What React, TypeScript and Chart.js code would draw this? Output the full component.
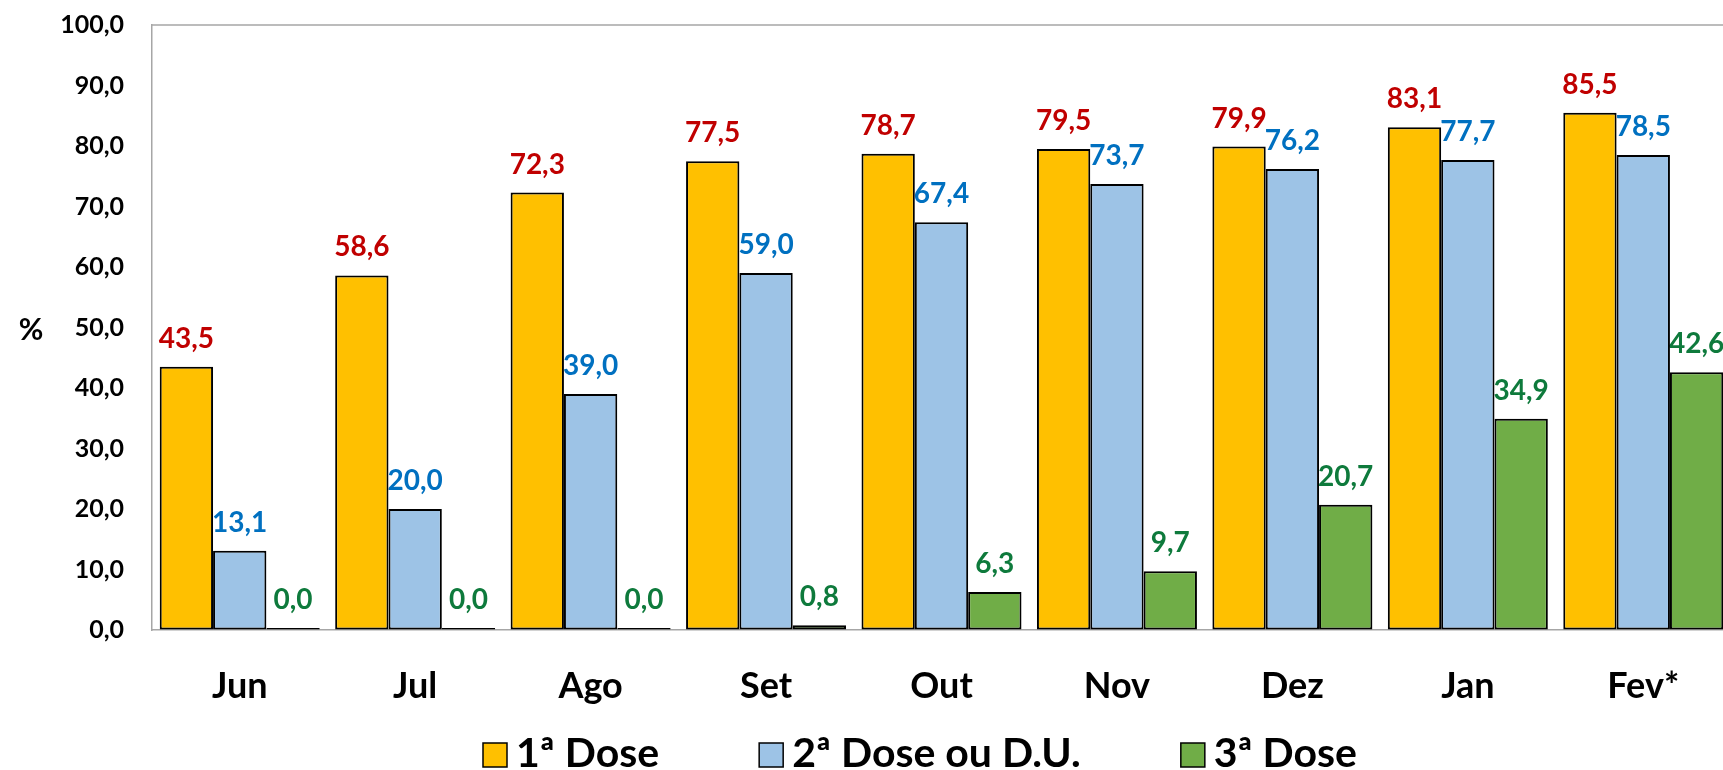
import React, { useEffect, useRef } from "react";
import { Chart, registerables } from "chart.js";

Chart.register(...registerables);

const categories = ["Jun", "Jul", "Ago", "Set", "Out", "Nov", "Dez", "Jan", "Fev*"];
const dose1 = [43.5, 58.6, 72.3, 77.5, 78.7, 79.5, 79.9, 83.1, 85.5];
const dose2 = [13.1, 20.0, 39.0, 59.0, 67.4, 73.7, 76.2, 77.7, 78.5];
const dose3 = [0.0, 0.0, 0.0, 0.8, 6.3, 9.7, 20.7, 34.9, 42.6];
const seriesNames = ["1ª Dose", "2ª Dose ou D.U.", "3ª Dose"];
const yTickLabels = ["0,0", "10,0", "20,0", "30,0", "40,0", "50,0", "60,0", "70,0", "80,0", "90,0", "100,0"];
const yTitle = "%";

const barColors = ["#FFC000", "#9DC3E6", "#70AD47"];
const labelColors = ["#C00000", "#0070C0", "#0E7A3C"];
const FONT = "Lato, 'Open Sans', sans-serif";

const fmt = (v: number) => v.toFixed(1).replace(".", ",");

export default function App() {
  const ref = useRef<HTMLCanvasElement | null>(null);

  useEffect(() => {
    if (!ref.current) return;

    const labelPlugin = {
      id: "valueLabels",
      beforeDatasetsDraw(chart: any) {
        const ctx = chart.ctx;
        ctx.save();
        ctx.font = `bold 28px ${FONT}`;
        ctx.textAlign = "center";
        ctx.textBaseline = "alphabetic";
        chart.data.datasets.forEach((ds: any, di: number) => {
          const meta = chart.getDatasetMeta(di);
          ctx.fillStyle = labelColors[di];
          meta.data.forEach((el: any, i: number) => {
            const top = Math.min(el.y, el.base);
            ctx.fillText(fmt(ds.data[i]), el.x, top - 19);
          });
        });
        ctx.restore();
      },
    };

    const framePlugin = {
      id: "frame",
      afterDraw(chart: any) {
        const ctx = chart.ctx;
        const a = chart.chartArea;
        ctx.save();
        ctx.strokeStyle = "#A6A6A6";
        ctx.lineWidth = 1.5;
        ctx.beginPath();
        ctx.moveTo(a.left, a.top);
        ctx.lineTo(a.right, a.top);
        ctx.stroke();

        // y title
        ctx.fillStyle = "#000";
        ctx.font = `bold 30px ${FONT}`;
        ctx.textAlign = "center";
        ctx.textBaseline = "middle";
        ctx.fillText(yTitle, 31, (a.top + a.bottom) / 2 + 3);

        // legend
        ctx.font = `bold 41px ${FONT}`;
        ctx.textBaseline = "alphabetic";
        ctx.textAlign = "left";
        const box = 24;
        const gapText = 9;
        const gapItem = 100;
        const widths = seriesNames.map((n) => ctx.measureText(n).width);
        let x = 483;
        const baseline = 767;
        seriesNames.forEach((n, i) => {
          ctx.fillStyle = barColors[i];
          ctx.fillRect(x, baseline - box, box, box);
          ctx.strokeStyle = "#000";
          ctx.lineWidth = 1.5;
          ctx.strokeRect(x, baseline - box, box, box);
          ctx.fillStyle = "#000";
          ctx.fillText(n, x + box + gapText, baseline);
          x += box + gapText + widths[i] + gapItem;
        });
        ctx.restore();
      },
    };

    const chart = new Chart(ref.current, {
      type: "bar",
      data: {
        labels: categories,
        datasets: [dose1, dose2, dose3].map((d, i) => ({
          label: seriesNames[i],
          data: d,
          backgroundColor: barColors[i],
          borderColor: "#000",
          borderWidth: 2,
          borderSkipped: false,
          minBarLength: 2,
          categoryPercentage: 0.912,
          barPercentage: 1.0,
        })),
      },
      options: {
        animation: false,
        responsive: true,
        maintainAspectRatio: false,
        layout: { padding: { left: 0, right: 4, top: 25, bottom: 0 } },
        plugins: {
          legend: { display: false },
          tooltip: { enabled: false },
        },
        scales: {
          x: {
            grid: { display: true, drawOnChartArea: false, drawTicks: true, tickLength: 32, color: "rgba(0,0,0,0)" },
            border: { display: true, color: "#A6A6A6", width: 1.5 },
            ticks: {
              font: { family: FONT, size: 36, weight: "bold" },
              color: "#000",
              padding: 3,
              maxRotation: 0,
              autoSkip: false,
            },
            afterFit(scale: any) {
              scale.height = 140;
            },
          },
          y: {
            min: 0,
            max: 100,
            grid: { display: true, drawOnChartArea: false, drawTicks: true, tickLength: 25, color: "rgba(0,0,0,0)" },
            border: { display: true, color: "#A6A6A6", width: 1.5 },
            ticks: {
              stepSize: 10,
              font: { family: FONT, size: 25, weight: "bold" },
              color: "#000",
              padding: 3,
              callback: (v: any) => yTickLabels[Math.round(Number(v) / 10)],
            },
            afterFit(scale: any) {
              scale.width = 152;
            },
          },
        },
      },
      plugins: [labelPlugin, framePlugin],
    });

    return () => chart.destroy();
  }, []);

  return (
    <div style={{ position: "fixed", left: 0, top: 0, width: 1723, height: 770, overflow: "hidden", background: "#fff" }}>
      <div style={{ position: "relative", width: 1735, height: 770 }}>
        <canvas ref={ref} />
      </div>
    </div>
  );
}
